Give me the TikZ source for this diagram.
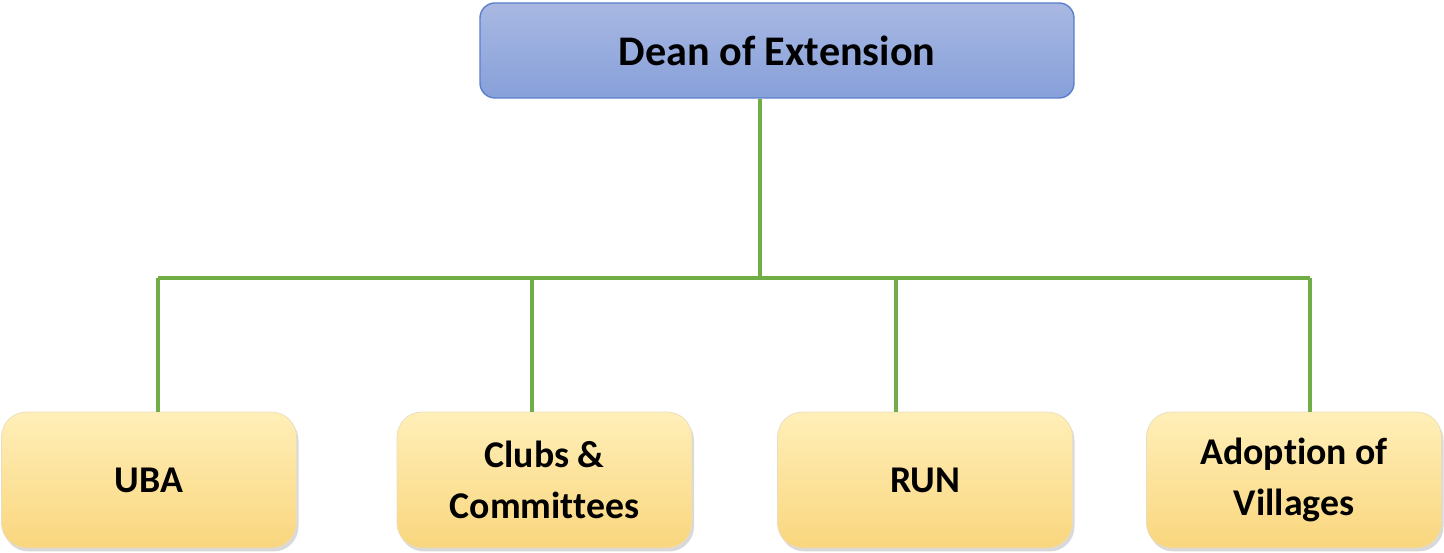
\documentclass[tikz,border=0pt]{standalone}
\usepackage{fontspec}
\setmainfont{Carlito}[Ligatures=NoCommon]
\usetikzlibrary{shadows}
\definecolor{deantop}{HTML}{A8B8E2}
\definecolor{deanbottom}{HTML}{87A0DA}
\definecolor{deanborder}{HTML}{5B7FCB}
\definecolor{unittop}{HTML}{FFEFB8}
\definecolor{unitbottom}{HTML}{F9D67E}
\definecolor{linegreen}{HTML}{70AD47}
\begin{document}
\begin{tikzpicture}
        [deandecorate/.style={shape=rectangle,rounded corners=0.3cm,draw=deanborder,thick,%
          top color=deantop,bottom color=deanbottom,minimum width=11.88cm,minimum height=1.9cm,%
          font=\fontsize{24}{26}\selectfont\bfseries},%
        unitdecorate/.style={shape=rectangle,rounded corners=0.5cm,draw=unitbottom!80!black!40,%
          top color=unittop,bottom color=unitbottom,minimum width=5.9cm,minimum height=2.72cm,%
          align=center,font=\fontsize{21.5}{29}\selectfont\bfseries,%
          drop shadow={shadow xshift=0.04cm,shadow yshift=-0.07cm,opacity=0.3}},%
        linedecorate/.style={-,draw=linegreen,line width=2.3pt}]
        \useasboundingbox (0,0) rectangle (28.88,11.06);
        %% nodes or vertices
        \node (dean) at (15.54,10.05) [deandecorate] {Dean of Extension};
        \coordinate (bus) at (15.2,5.5);
        \foreach \nodename/\x/\unitname in { uba/2.98/UBA,
          clubs/10.89/{Clubs \&\\Committees}, run/18.5/RUN,
          villages/25.88/{Adoption of\\Villages}}
        {
          \node (\nodename) at (\x,1.46) [unitdecorate] {\unitname};
        }
        \foreach \nodename/\x in {uba/3.16, clubs/10.64, run/17.92, villages/26.2}
        {
          \coordinate (\nodename-drop) at (\x,5.5);
        }
        %% edges or lines
        \draw[linedecorate] (dean.south -| bus) -- (bus);
        \draw[linedecorate] (uba-drop) -- (villages-drop);
        \foreach \nodename in {uba, clubs, run, villages}
        {
          \draw[linedecorate] (\nodename-drop) -- (\nodename-drop |- \nodename.north);
        }
      \end{tikzpicture}
\end{document}
